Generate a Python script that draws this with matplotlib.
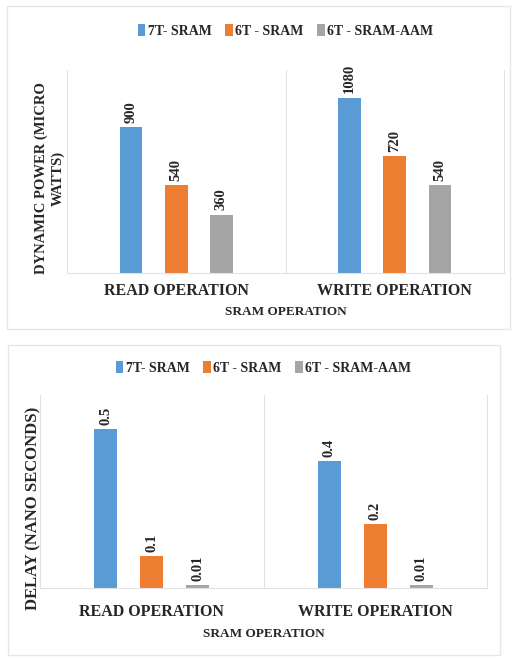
import matplotlib
matplotlib.use('Agg')
import matplotlib.pyplot as plt
from matplotlib.patches import Rectangle

plt.rcParams['font.family'] = ['Liberation Serif', 'DejaVu Serif']

categories = ['READ OPERATION', 'WRITE OPERATION']
series = ['7T- SRAM', '6T - SRAM', '6T - SRAM-AAM']
colors = ['#5B9BD5', '#ED7D31', '#A5A5A5']

power_values = [[900, 1080], [540, 720], [360, 540]]
power_labels = [['900', '1080'], ['540', '720'], ['360', '540']]
delay_values = [[0.5, 0.4], [0.1, 0.2], [0.01, 0.01]]
delay_labels = [['0.5', '0.4'], ['0.1', '0.2'], ['0.01', '0.01']]

W, H = 512, 657
TXT = '#262626'
GRID = '#e2e2e2'


def frac(x0, y0, x1, y1):
    """pixel box (top-left origin) -> figure fraction rect"""
    return [x0 / W, 1 - y1 / H, (x1 - x0) / W, (y1 - y0) / H]


def draw_panel(fig, rect, values, labels, ymax, ylabel, ylab_xy, ylab_size,
               legend_y, tick_y, xlab_y):
    ax = fig.add_axes(rect)
    offsets = [-0.206, 0.0, 0.206]
    handles = []
    for i, s in enumerate(series):
        xs = [c + offsets[i] for c in range(len(categories))]
        bars = ax.bar(xs, values[i], width=0.103, color=colors[i], label=s)
        handles.append(bars)
        for b, lab in zip(bars, labels[i]):
            ax.annotate(lab, (b.get_x() + b.get_width() / 2, b.get_height()),
                        xytext=(0, 3), textcoords='offset points',
                        rotation=90, ha='center', va='bottom',
                        fontsize=10.5, fontweight='bold', color=TXT)
    ax.set_xlim(-0.5, len(categories) - 0.5)
    ax.set_ylim(0, ymax)
    ax.set_yticks([])
    ax.set_xticks([])
    for sp in ax.spines.values():
        sp.set_color(GRID)
        sp.set_linewidth(0.8)
    ax.spines['top'].set_visible(False)
    for k in range(1, len(categories)):
        ax.axvline(k - 0.5, color=GRID, lw=0.8)

    # category labels
    x0, w = rect[0], rect[2]
    n = len(categories)
    for c, name in enumerate(categories):
        fig.text(x0 + w * (c + 0.5) / n, 1 - tick_y / H, name, ha='center',
                 va='center', fontsize=11.5, fontweight='bold', color=TXT)
    fig.text(x0 + w / 2, 1 - xlab_y / H, 'SRAM OPERATION', ha='center',
             va='center', fontsize=9.5, fontweight='bold', color=TXT)
    fig.text(ylab_xy[0] / W, 1 - ylab_xy[1] / H, ylabel, rotation=90,
             ha='center', va='center', fontsize=ylab_size, fontweight='bold',
             color=TXT, linespacing=1.3, multialignment='center')

    fig.legend(handles=handles, labels=series, loc='center',
               bbox_to_anchor=(x0 + w / 2, 1 - legend_y / H),
               ncol=3, frameon=False, handlelength=0.55, handleheight=0.9,
               handletextpad=0.15, columnspacing=1.0,
               prop={'size': 10, 'weight': 'bold'}, labelcolor=TXT)
    return ax


fig = plt.figure(figsize=(W / 100, H / 100), dpi=100)
fig.patch.set_facecolor('white')

# panel frames
fig.patches.append(Rectangle((7 / W, 1 - 329 / H), 503 / W, 323 / H,
                             transform=fig.transFigure, fill=False,
                             edgecolor='#e6e6e6', lw=1))
fig.patches.append(Rectangle((8 / W, 1 - 655 / H), 492 / W, 310 / H,
                             transform=fig.transFigure, fill=False,
                             edgecolor='#e6e6e6', lw=1))

draw_panel(fig, frac(67, 70, 504, 273), power_values, power_labels, 1250,
           'DYNAMIC POWER (MICRO\nWATTS)', (50, 178), 10.5,
           legend_y=31, tick_y=291, xlab_y=312)

draw_panel(fig, frac(40, 395, 487, 588), delay_values, delay_labels, 0.607,
           'DELAY (NANO SECONDS)', (33, 508), 12,
           legend_y=368, tick_y=612, xlab_y=634)

fig.savefig('out.png', dpi=100)
